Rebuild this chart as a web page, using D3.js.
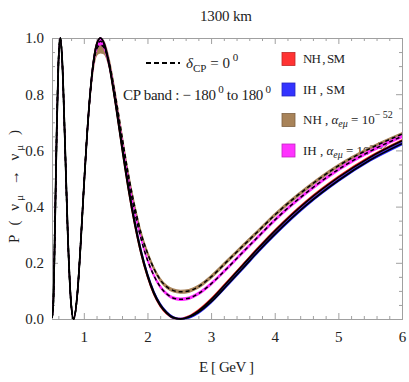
<!DOCTYPE html>
<html>
<head>
<meta charset="utf-8">
<script src="https://cdn.jsdelivr.net/npm/d3@7"></script>
<style>
  body { margin: 0; background: #fff; }
  text { font-family: "Liberation Serif", "DejaVu Serif", serif; fill: #222; }
</style>
</head>
<body>
<svg width="409" height="382"></svg>
<script>
const energy = [0.5, 0.52, 0.55, 0.575, 0.6, 0.63, 0.66, 0.7, 0.75, 0.8, 0.84, 0.9, 0.95, 1.0, 1.05, 1.1, 1.15, 1.2, 1.26, 1.32, 1.4, 1.5, 1.6, 1.7, 1.8, 1.9, 2.0, 2.1, 2.2, 2.3, 2.4, 2.52, 2.65, 2.8, 3.0, 3.25, 3.5, 3.75, 4.0, 4.5, 5.0, 5.5, 6.0];

// SM, inverted hierarchy (blue) and normal hierarchy (red)
const smIH = [0.004, 0.055, 0.37, 0.678, 0.903, 1.0, 0.922, 0.657, 0.289, 0.055, 0.0, 0.094, 0.266, 0.467, 0.652, 0.804, 0.912, 0.975, 1.0, 0.98, 0.906, 0.77, 0.618, 0.473, 0.347, 0.242, 0.159, 0.096, 0.052, 0.024, 0.006, 0.0, 0.006, 0.024, 0.061, 0.12, 0.181, 0.243, 0.301, 0.406, 0.493, 0.566, 0.624];
const smNH = [0.004, 0.055, 0.37, 0.678, 0.903, 1.0, 0.922, 0.657, 0.289, 0.055, 0.0, 0.094, 0.266, 0.467, 0.652, 0.804, 0.912, 0.975, 1.0, 0.978, 0.9, 0.762, 0.608, 0.462, 0.337, 0.233, 0.152, 0.09, 0.048, 0.021, 0.005, 0.0, 0.008, 0.029, 0.069, 0.13, 0.192, 0.254, 0.313, 0.418, 0.504, 0.576, 0.634];

// with long range force alpha_emu = 1e-52
const nsiNH = [0.004, 0.055, 0.37, 0.678, 0.903, 1.0, 0.922, 0.657, 0.289, 0.055, 0.0, 0.094, 0.266, 0.467, 0.655, 0.8, 0.905, 0.96, 0.975, 0.965, 0.91, 0.79, 0.65, 0.515, 0.4, 0.305, 0.235, 0.18, 0.14, 0.115, 0.102, 0.097, 0.1, 0.115, 0.15, 0.205, 0.26, 0.315, 0.37, 0.465, 0.545, 0.607, 0.658];
const nsiIH = [0.004, 0.055, 0.37, 0.678, 0.903, 1.0, 0.922, 0.657, 0.289, 0.055, 0.0, 0.094, 0.266, 0.467, 0.654, 0.802, 0.908, 0.968, 0.988, 0.972, 0.905, 0.78, 0.635, 0.497, 0.38, 0.285, 0.21, 0.155, 0.115, 0.09, 0.075, 0.07, 0.074, 0.09, 0.125, 0.18, 0.238, 0.295, 0.352, 0.45, 0.532, 0.597, 0.65];

// half width of the CP band
const cpWidthSM  = [0, 0, 0, 0, 0, 0, 0, 0, 0, 0, 0, 0, 0, 0.002, 0.002, 0.003, 0.003, 0.003, 0.002, 0.003, 0.003, 0.004, 0.004, 0.004, 0.004, 0.004, 0.004, 0.004, 0.004, 0.003, 0.003, 0.002, 0.003, 0.004, 0.004, 0.004, 0.004, 0.004, 0.004, 0.004, 0.004, 0.004, 0.004];
const cpWidthNH  = [0, 0, 0, 0, 0, 0, 0, 0, 0, 0, 0, 0, 0, 0.003, 0.006, 0.01, 0.016, 0.022, 0.028, 0.022, 0.014, 0.008, 0.006, 0.005, 0.005, 0.005, 0.005, 0.005, 0.005, 0.005, 0.005, 0.005, 0.005, 0.005, 0.005, 0.005, 0.005, 0.005, 0.005, 0.005, 0.005, 0.005, 0.005];
const cpWidthIH  = [0, 0, 0, 0, 0, 0, 0, 0, 0, 0, 0, 0, 0, 0.002, 0.004, 0.006, 0.008, 0.01, 0.012, 0.01, 0.007, 0.005, 0.004, 0.004, 0.004, 0.004, 0.004, 0.004, 0.004, 0.004, 0.004, 0.004, 0.004, 0.004, 0.004, 0.004, 0.004, 0.004, 0.004, 0.004, 0.004, 0.004, 0.004];

const xTicks = [1, 2, 3, 4, 5, 6];
const yTicks = [0, 0.2, 0.4, 0.6, 0.8, 1.0];

const svg = d3.select("svg");
const x = d3.scaleLinear().domain([0.5, 6]).range([52, 402]);
const y = d3.scaleLinear().domain([0, 1]).range([319, 38]);

const frameColor = "#a0a0a0";
const serif = "Liberation Serif, DejaVu Serif, serif";

// title + axis labels
svg.append("text").attr("x", 200).attr("y", 21)
  .attr("textLength", 52).attr("lengthAdjust", "spacing")
  .style("font-size", "15px").text("1300 km");

svg.append("text").attr("x", 199).attr("y", 372)
  .attr("textLength", 55).attr("lengthAdjust", "spacing")
  .style("font-size", "15px").text("E [ GeV ]");

const yl = svg.append("text")
  .attr("transform", "translate(19,243) rotate(-90)")
  .attr("textLength", 113).attr("lengthAdjust", "spacing")
  .style("font-size", "15px");
yl.append("tspan").text("P (  ν");
yl.append("tspan").attr("dy", 4).style("font-size", "11px").text("μ");
yl.append("tspan").attr("dy", -4).text("  →  ν");
yl.append("tspan").attr("dy", 4).style("font-size", "11px").text("μ");
yl.append("tspan").attr("dy", -4).text("  )");

// frame and ticks
const minorX = d3.range(0.6, 6.001, 0.2).filter(v => Math.abs(v - Math.round(v)) > 0.01);
const minorY = d3.range(0, 1.001, 0.05).filter(v => Math.abs(v * 5 - Math.round(v * 5)) > 0.01);

function styleAxis(g) {
  g.attr("font-family", serif).attr("font-size", 15);
  g.select(".domain").attr("stroke", frameColor);
  g.selectAll(".tick line").attr("stroke", frameColor);
  g.selectAll(".tick text").attr("fill", "#222").style("font-size", "15px");
}

svg.append("g").attr("transform", "translate(0,319)")
  .call(d3.axisBottom(x).tickValues(xTicks).tickFormat(d3.format("d")).tickSize(-6).tickPadding(12))
  .call(styleAxis);
svg.append("g").attr("transform", "translate(0,319)")
  .call(d3.axisBottom(x).tickValues(minorX).tickFormat("").tickSize(-3)).call(styleAxis);
svg.append("g").attr("transform", "translate(0,38)")
  .call(d3.axisTop(x).tickValues(xTicks).tickFormat("").tickSize(-6)).call(styleAxis);
svg.append("g").attr("transform", "translate(0,38)")
  .call(d3.axisTop(x).tickValues(minorX).tickFormat("").tickSize(-3)).call(styleAxis);

svg.append("g").attr("transform", "translate(52,0)")
  .call(d3.axisLeft(y).tickValues(yTicks).tickFormat(d3.format(".1f")).tickSize(-6).tickPadding(8))
  .call(styleAxis);
svg.append("g").attr("transform", "translate(52,0)")
  .call(d3.axisLeft(y).tickValues(minorY).tickFormat("").tickSize(-3)).call(styleAxis);
svg.append("g").attr("transform", "translate(402,0)")
  .call(d3.axisRight(y).tickValues(yTicks).tickFormat("").tickSize(-6)).call(styleAxis);
svg.append("g").attr("transform", "translate(402,0)")
  .call(d3.axisRight(y).tickValues(minorY).tickFormat("").tickSize(-3)).call(styleAxis);

// legend (drawn under the curves, as in the original)
const legendItems = [
  { color: "#ff3333", label: "NH , SM", nsi: false },
  { color: "#3333ff", label: "IH , SM", nsi: false },
  { color: "#a88359", label: "NH , ", nsi: true },
  { color: "#ff33ff", label: "IH , ", nsi: true }
];
const lg = svg.append("g");
legendItems.forEach((d, i) => {
  const cy = 59 + i * 30.5;
  lg.append("rect").attr("x", 282).attr("y", cy - 6.5).attr("width", 13).attr("height", 13)
    .attr("fill", d.color).attr("stroke", d3.color(d.color).darker(0.8)).attr("stroke-width", 0.8);
  const t = lg.append("text").attr("x", 303).attr("y", cy + 4).style("font-size", "13px");
  if (!d.nsi) t.attr("textLength", 42).attr("lengthAdjust", "spacing");
  t.append("tspan").text(d.label);
  if (d.nsi) {
    t.append("tspan").style("font-style", "italic").text("α");
    t.append("tspan").attr("dy", 3).style("font-size", "10px").style("font-style", "italic").text("eμ");
    t.append("tspan").attr("dy", -3).text(" = 10");
    t.append("tspan").attr("dy", -6).style("font-size", "10px").text("− 52");
  }
});

// delta_CP + band annotation
svg.append("line").attr("x1", 146).attr("x2", 180).attr("y1", 63).attr("y2", 63)
  .attr("stroke", "#000").attr("stroke-width", 2).attr("stroke-dasharray", "5,3");
const dl = svg.append("text").attr("x", 186).attr("y", 68).style("font-size", "15px");
dl.append("tspan").style("font-style", "italic").text("δ");
dl.append("tspan").attr("dy", 4).style("font-size", "11px").text("CP");
dl.append("tspan").attr("dy", -4).text(" = 0");
dl.append("tspan").attr("dy", -7).style("font-size", "11px").text(" 0");

const cb = svg.append("text").attr("x", 123).attr("y", 100)
  .attr("textLength", 148).attr("lengthAdjust", "spacing").style("font-size", "15px");
cb.append("tspan").text("CP  band : − 180");
cb.append("tspan").attr("dy", -7).style("font-size", "11px").text(" 0");
cb.append("tspan").attr("dy", 7).text("  to  180");
cb.append("tspan").attr("dy", -7).style("font-size", "11px").text(" 0");

// curves
svg.append("clipPath").attr("id", "plot").append("rect")
  .attr("x", 52).attr("y", 36).attr("width", 350).attr("height", 285);
const plot = svg.append("g").attr("clip-path", "url(#plot)");

function rows(center, width) {
  return energy.map((e, i) => ({ e, v: center[i], lo: center[i] - width[i], hi: center[i] + width[i] }));
}

const area = d3.area().curve(d3.curveMonotoneX)
  .x(d => x(d.e)).y0(d => y(Math.max(0, d.lo))).y1(d => y(Math.min(1, d.hi)));
const line = d3.line().curve(d3.curveMonotoneX).x(d => x(d.e)).y(d => y(d.v));

const bands = [
  { data: rows(smNH, cpWidthSM), color: "#ff2a2a" },
  { data: rows(smIH, cpWidthSM), color: "#2a2aff" },
  { data: rows(nsiNH, cpWidthNH), color: "#a88359" },
  { data: rows(nsiIH, cpWidthIH), color: "#ff2aff" }
];

bands.forEach(b => {
  plot.append("path").datum(b.data).attr("d", area)
    .attr("fill", b.color).attr("stroke", b.color).attr("stroke-width", 1.2);
});

// delta_CP = 0 lines
plot.append("path").datum(rows(smNH, cpWidthSM)).attr("d", line)
  .attr("fill", "none").attr("stroke", "#000").attr("stroke-width", 1.7);
plot.append("path").datum(rows(smIH, cpWidthSM)).attr("d", line)
  .attr("fill", "none").attr("stroke", "#000").attr("stroke-width", 1.7);
plot.append("path").datum(rows(nsiNH, cpWidthNH)).attr("d", line)
  .attr("fill", "none").attr("stroke", "#000").attr("stroke-width", 1.5).attr("stroke-dasharray", "4,3");
plot.append("path").datum(rows(nsiIH, cpWidthIH)).attr("d", line)
  .attr("fill", "none").attr("stroke", "#000").attr("stroke-width", 1.5).attr("stroke-dasharray", "4,3");
</script>
</body>
</html>
